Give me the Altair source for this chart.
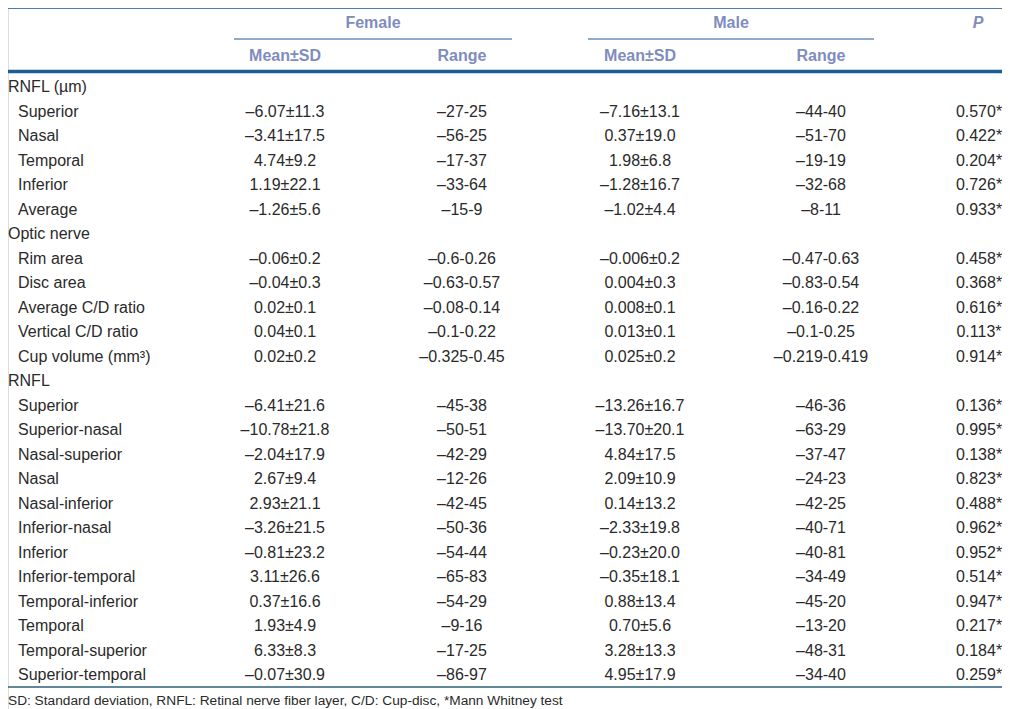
import altair as alt
import pandas as pd

labels = ["RNFL (µm)", "Superior", "Nasal", "Temporal", "Inferior", "Average",
          "Optic nerve", "Rim area", "Disc area", "Average C/D ratio", "Vertical C/D ratio",
          "Cup volume (mm³)", "RNFL", "Superior", "Superior-nasal", "Nasal-superior", "Nasal",
          "Nasal-inferior", "Inferior-nasal", "Inferior", "Inferior-temporal",
          "Temporal-inferior", "Temporal", "Temporal-superior", "Superior-temporal"]
is_group = [True, False, False, False, False, False,
            True, False, False, False, False, False,
            True, False, False, False, False, False, False, False, False, False, False, False, False]
female_mean = ["", "–6.07±11.3", "–3.41±17.5", "4.74±9.2", "1.19±22.1", "–1.26±5.6",
               "", "–0.06±0.2", "–0.04±0.3", "0.02±0.1", "0.04±0.1", "0.02±0.2",
               "", "–6.41±21.6", "–10.78±21.8", "–2.04±17.9", "2.67±9.4", "2.93±21.1",
               "–3.26±21.5", "–0.81±23.2", "3.11±26.6", "0.37±16.6", "1.93±4.9", "6.33±8.3", "–0.07±30.9"]
female_range = ["", "–27-25", "–56-25", "–17-37", "–33-64", "–15-9",
                "", "–0.6-0.26", "–0.63-0.57", "–0.08-0.14", "–0.1-0.22", "–0.325-0.45",
                "", "–45-38", "–50-51", "–42-29", "–12-26", "–42-45",
                "–50-36", "–54-44", "–65-83", "–54-29", "–9-16", "–17-25", "–86-97"]
male_mean = ["", "–7.16±13.1", "0.37±19.0", "1.98±6.8", "–1.28±16.7", "–1.02±4.4",
             "", "–0.006±0.2", "0.004±0.3", "0.008±0.1", "0.013±0.1", "0.025±0.2",
             "", "–13.26±16.7", "–13.70±20.1", "4.84±17.5", "2.09±10.9", "0.14±13.2",
             "–2.33±19.8", "–0.23±20.0", "–0.35±18.1", "0.88±13.4", "0.70±5.6", "3.28±13.3", "4.95±17.9"]
male_range = ["", "–44-40", "–51-70", "–19-19", "–32-68", "–8-11",
              "", "–0.47-0.63", "–0.83-0.54", "–0.16-0.22", "–0.1-0.25", "–0.219-0.419",
              "", "–46-36", "–63-29", "–37-47", "–24-23", "–42-25",
              "–40-71", "–40-81", "–34-49", "–45-20", "–13-20", "–48-31", "–34-40"]
p_values = ["", "0.570*", "0.422*", "0.204*", "0.726*", "0.933*",
            "", "0.458*", "0.368*", "0.616*", "0.113*", "0.914*",
            "", "0.136*", "0.995*", "0.138*", "0.823*", "0.488*",
            "0.962*", "0.952*", "0.514*", "0.947*", "0.217*", "0.184*", "0.259*"]

group_headers = ["Female", "Male", "P"]
sub_headers = ["Mean±SD", "Range", "Mean±SD", "Range"]
footnote = "SD: Standard deviation, RNFL: Retinal nerve fiber layer, C/D: Cup-disc, *Mann Whitney test"

df = pd.DataFrame({
    "row": list(range(len(labels))),
    "label": labels,
    "group": is_group,
    "f_mean": female_mean,
    "f_range": female_range,
    "m_mean": male_mean,
    "m_range": male_range,
    "p": p_values,
})

W, H = 994, 701
FONT = "Liberation Sans"
FS = 16
TXT = "#2a2a2a"
HDR = "#7f8cbf"
LINE = "#1f5b94"

yscale = alt.Scale(domain=[0, len(labels) - 1], range=[79, 667])
base = alt.Chart(df)

def col_layer(field, xpos, align="center", filt=None):
    ch = base
    if filt is not None:
        ch = ch.transform_filter(filt)
    return ch.mark_text(font=FONT, fontSize=FS, color=TXT, align=align, baseline="middle").encode(
        x=alt.value(xpos),
        y=alt.Y("row:Q", scale=yscale, axis=None),
        text=f"{field}:N",
    )

layers = [
    col_layer("label", 0, "left", alt.datum.group == True),
    col_layer("label", 10, "left", alt.datum.group == False),
    col_layer("f_mean", 277),
    col_layer("f_range", 454),
    col_layer("m_mean", 632),
    col_layer("m_range", 813),
    col_layer("p", 971),
]

hdr_df = pd.DataFrame({"text": group_headers})
for txt, xpos in zip(group_headers, [365, 723, 970]):
    layers.append(
        alt.Chart(hdr_df).transform_filter(alt.datum.text == txt).mark_text(
            font=FONT, fontSize=FS, fontWeight="bold", color=HDR, align="center",
            baseline="middle", fontStyle="italic" if txt == "P" else "normal"
        ).encode(x=alt.value(xpos), y=alt.value(15), text="text:N")
    )
sub_df = pd.DataFrame({"text": sub_headers, "idx": list(range(4))})
for i, xpos in enumerate([277, 454, 632, 813]):
    layers.append(
        alt.Chart(sub_df).transform_filter(alt.datum.idx == i).mark_text(
            font=FONT, fontSize=FS, fontWeight="bold", color=HDR, align="center", baseline="middle"
        ).encode(x=alt.value(xpos), y=alt.value(48), text="text:N")
    )

foot_df = pd.DataFrame({"text": [footnote]})
layers.append(
    alt.Chart(foot_df).mark_text(font=FONT, fontSize=13.7, color=TXT, align="left", baseline="middle").encode(
        x=alt.value(0), y=alt.value(693), text="text:N")
)

rule_df = pd.DataFrame({"k": [0]})
def rule(x1, x2, y, w, color=LINE):
    return alt.Chart(rule_df).mark_rule(color=color, strokeWidth=w).encode(
        x=alt.value(x1), x2=alt.value(x2), y=alt.value(y))

layers += [
    rule(0, W, 0, 1.5),
    rule(226, 504, 31, 1.2),
    rule(580, 866, 31, 1.2),
    rule(0, W, 63.5, 3.5),
    rule(0, W, 679, 1.5, "#2d5f7a"),
]

chart = alt.layer(*layers).properties(
    width=W, height=H, padding=0, autosize=alt.AutoSizeParams(type="none")
).configure_view(stroke=None).configure(background="white")

chart.save("out.html", embed_options={"renderer": "svg", "actions": False})
